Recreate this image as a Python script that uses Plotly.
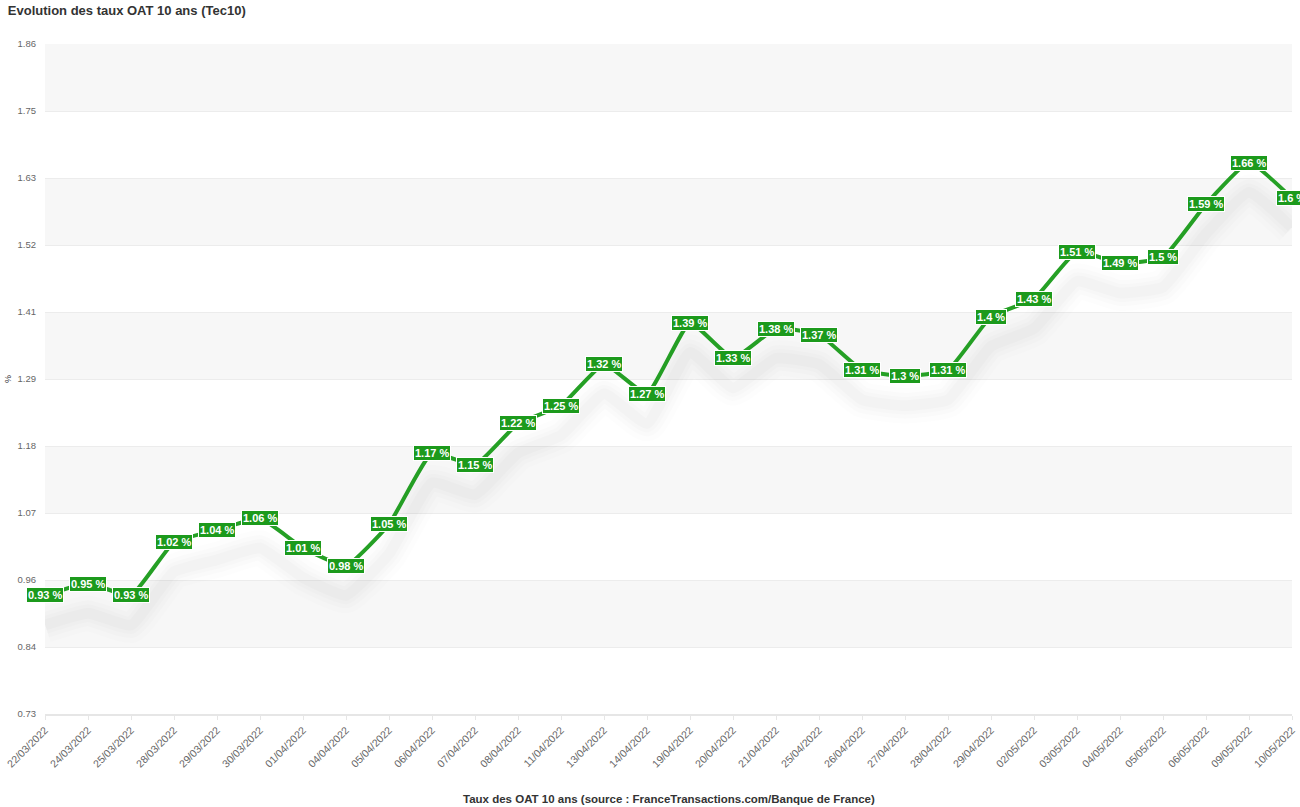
import plotly.graph_objects as go

dates = ["22/03/2022", "24/03/2022", "25/03/2022", "28/03/2022", "29/03/2022", "30/03/2022",
         "01/04/2022", "04/04/2022", "05/04/2022", "06/04/2022", "07/04/2022", "08/04/2022",
         "11/04/2022", "13/04/2022", "14/04/2022", "19/04/2022", "20/04/2022", "21/04/2022",
         "25/04/2022", "26/04/2022", "27/04/2022", "28/04/2022", "29/04/2022", "02/05/2022",
         "03/05/2022", "04/05/2022", "05/05/2022", "06/05/2022", "09/05/2022", "10/05/2022"]
rates = [0.93, 0.95, 0.93, 1.02, 1.04, 1.06, 1.01, 0.98, 1.05, 1.17, 1.15, 1.22, 1.25, 1.32,
         1.27, 1.39, 1.33, 1.38, 1.37, 1.31, 1.3, 1.31, 1.4, 1.43, 1.51, 1.49, 1.5, 1.59, 1.66, 1.6]
ytick_vals = [0.73, 0.843, 0.956, 1.069, 1.182, 1.295, 1.408, 1.521, 1.634, 1.747, 1.86]
ytick_text = ["0.73", "0.84", "0.96", "1.07", "1.18", "1.29", "1.41", "1.52", "1.63", "1.75", "1.86"]

GREEN = "#25a025"
LABEL_BG = "#1c9a1c"
FONT = "Arial, Liberation Sans, sans-serif"
YMIN, YMAX = 0.73, 1.86
shadow_shift = 0.05
SMOOTH = 0.4

xs = list(range(len(dates)))
fig = go.Figure()

# soft shadow under the line (drawn on a shifted overlay axis)
for w, a in [(36, 0.008), (26, 0.01), (18, 0.012), (11, 0.014)]:
    fig.add_trace(go.Scatter(x=xs, y=rates, mode="lines", yaxis="y2", xaxis="x",
                             line=dict(color=f"rgba(0,0,0,{a})", width=w, shape="spline", smoothing=SMOOTH),
                             hoverinfo="skip", showlegend=False))

fig.add_trace(go.Scatter(x=xs, y=rates, mode="lines",
                         line=dict(color=GREEN, width=4, shape="spline", smoothing=SMOOTH),
                         showlegend=False))

# alternating bands
shapes = []
for i in range(len(ytick_vals) - 1):
    if i % 2 == 1:
        shapes.append(dict(type="rect", xref="paper", yref="y", x0=0, x1=1,
                           y0=ytick_vals[i], y1=ytick_vals[i + 1],
                           fillcolor="#f7f7f7", line=dict(width=0), layer="below"))

annotations = []
for x, v in zip(xs, rates):
    annotations.append(dict(x=x, y=v, xref="x", yref="y", text=f"<b>{v:g} %</b>",
                            showarrow=False, bgcolor=LABEL_BG, bordercolor="white",
                            borderwidth=1, borderpad=1,
                            font=dict(family=FONT, size=11, color="white")))

annotations.append(dict(x=0.5, y=0, xref="paper", yref="paper", showarrow=False,
                        text="<b>Taux des OAT 10 ans (source : FranceTransactions.com/Banque de France)</b>",
                        font=dict(family=FONT, size=11.5, color="#333"),
                        xanchor="center", yanchor="bottom", yshift=-93))
annotations.append(dict(x=0, y=0.5, xref="paper", yref="paper", showarrow=False,
                        text="%", textangle=-90, xshift=-37,
                        font=dict(family=FONT, size=9, color="#333"),
                        xanchor="center", yanchor="middle"))

fig.update_layout(
    width=1300, height=807,
    margin=dict(l=45, r=8, t=44, b=93, autoexpand=False),
    paper_bgcolor="white", plot_bgcolor="white",
    title=dict(text="<b>Evolution des taux OAT 10 ans (Tec10)</b>", x=0.006, xanchor="left",
               y=0.993, yanchor="top",
               font=dict(family=FONT, size=13, color="#333")),
    xaxis=dict(range=[0, len(dates) - 1], tickmode="array", tickvals=xs, ticktext=dates,
               tickangle=-45, tickfont=dict(family=FONT, size=10.5, color="#666"),
               showgrid=False, zeroline=False, showline=True, linecolor="#e6e6e6", linewidth=2,
               ticks="outside", ticklen=4, tickcolor="#e6e6e6", automargin=False),
    yaxis=dict(range=[YMIN, YMAX], tickmode="array", tickvals=ytick_vals, ticktext=ytick_text,
               tickfont=dict(family=FONT, size=9.5, color="#666"),
               showgrid=True, gridcolor="#ececec", gridwidth=1, zeroline=False, ticks="",
               ticklabelstandoff=8, automargin=False),
    yaxis2=dict(range=[YMIN + shadow_shift, YMAX + shadow_shift], overlaying="y",
                visible=False),
    shapes=shapes,
    annotations=annotations,
)

fig.write_html("out.html", config={"displayModeBar": False},
               post_script="document.body.style.margin='0';document.body.style.overflow='hidden';")
